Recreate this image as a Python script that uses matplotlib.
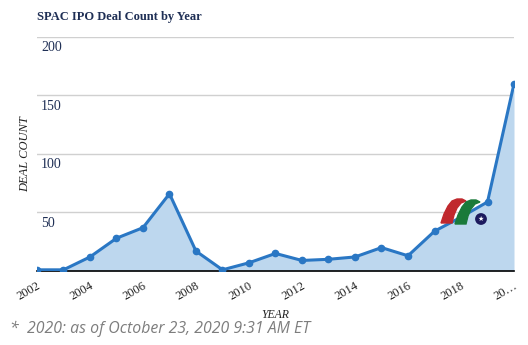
import matplotlib.pyplot as plt
from matplotlib.patches import Polygon

years = list(range(2002, 2021))
deals = [1, 1, 12, 28, 37, 66, 17, 1, 7, 15, 9, 10, 12, 20, 13, 34, 46, 59, 160]
xtick_years = [2002, 2004, 2006, 2008, 2010, 2012, 2014, 2016, 2018, 2020]
xtick_labels = ['2002', '2004', '2006', '2008', '2010', '2012', '2014', '2016', '2018', '20…']
ytick_values = [50, 100, 150, 200]

line_color = '#2a77c4'
fill_color = '#bdd7ee'
navy = '#1f2f55'
serif = 'Liberation Serif'

fig = plt.figure(figsize=(5.28, 3.45), dpi=100)
ax = fig.add_axes([0.070, 0.2145, 0.9035, 0.6785])

ax.fill_between(years, deals, 0, color=fill_color, lw=0, zorder=1)
ax.plot(years, deals, color=line_color, lw=2.2, marker='o', ms=4.5, zorder=3)

ax.set_xlim(2002, 2020)
ax.set_ylim(0, 200)

# gridlines and inside y labels
for v in ytick_values:
    ax.axhline(v, color='#d0d0d0', lw=1, zorder=0)
    ax.annotate(str(v), xy=(0, v), xycoords=('axes fraction', 'data'),
                xytext=(3, -3), textcoords='offset points',
                ha='left', va='top', fontsize=10, family=serif, color=navy)
ax.set_yticks([])

ax.set_xticks(xtick_years)
ax.set_xticklabels(xtick_labels, rotation=30, ha='right', rotation_mode='anchor',
                   fontsize=9, family=serif, color='#222222')
ax.tick_params(axis='x', length=0, pad=6)

for side in ['top', 'right', 'left']:
    ax.spines[side].set_visible(False)
ax.spines['bottom'].set_color('black')
ax.spines['bottom'].set_linewidth(1.2)

ax.set_xlabel('YEAR', fontsize=8.5, family=serif, style='italic', color='#222222', labelpad=5)
ax.set_ylabel('DEAL COUNT', fontsize=9, family=serif, style='italic', color='#222222', labelpad=4)

fig.text(0.070, 0.951, 'SPAC IPO Deal Count by Year', fontsize=9, family=serif,
         weight='bold', color=navy, ha='left', va='center')
fig.text(0.019, 0.046, '*  2020: as of October 23, 2020 9:31 AM ET', fontsize=11.4,
         family='Open Sans', style='italic', color='#7d7d7d', ha='left', va='center')

# logo overlay
tr = fig.transFigure
W, H = 528, 345
def fpt(x, y):
    return (x / W, 1 - y / H)
leaf = [(0, 24), (3, 15), (7, 7), (11, 2), (16, 0), (21, 0), (25, 2), (20, 4),
        (16, 9), (13, 16), (11, 24)]
for x0, y0, col in [(441, 199, '#c0282d'), (455, 200, '#1a7a3a')]:
    fig.add_artist(Polygon([fpt(x0 + dx, y0 + dy) for dx, dy in leaf], closed=True,
                           color=col, transform=tr, zorder=5))
ax.annotate('★', xy=fpt(481, 219), xycoords='figure fraction', ha='center', va='center',
            fontsize=5, color='white', zorder=7,
            bbox=dict(boxstyle='circle,pad=0.4', fc='#1c1a5e', ec='none'))

fig.savefig('out.png', dpi=100)
